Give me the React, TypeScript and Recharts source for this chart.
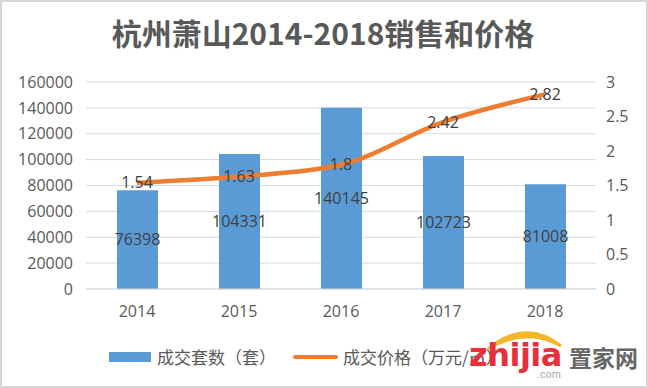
import { ComposedChart, Bar, Line, XAxis, YAxis, CartesianGrid, LabelList, Legend } from 'recharts'

const years = ['2014', '2015', '2016', '2017', '2018']
const units = [76398, 104331, 140145, 102723, 81008]
const prices = [1.54, 1.63, 1.8, 2.42, 2.82]
const leftTicks = [0, 20000, 40000, 60000, 80000, 100000, 120000, 140000, 160000]
const rightTicks = [0, 0.5, 1, 1.5, 2, 2.5, 3]

const data = years.map((y, i) => ({ year: y, units: units[i], price: prices[i] }))

const BLUE = '#5B9BD5'
const ORANGE = '#ED7D31'
const FONT = '"Open Sans", "Noto Sans CJK SC", sans-serif'
const CJK = '"Noto Sans CJK SC", sans-serif'

function LegendContent() {
  const text = { position: 'absolute' as const, top: 0, lineHeight: '24px', whiteSpace: 'nowrap' as const }
  return (
    <div style={{ position: 'relative', width: 648, height: 24, fontFamily: CJK, fontSize: 17, color: '#595959' }}>
      <span style={{ position: 'absolute', left: 109, top: 7, width: 42, height: 10, background: BLUE }} />
      <span style={{ ...text, left: 157 }}>成交套数（套）</span>
      <span style={{ position: 'absolute', left: 293, top: 10, width: 45, height: 4, background: ORANGE, borderRadius: 2 }} />
      <span style={{ ...text, left: 343 }}>成交价格（万元/㎡）</span>
    </div>
  )
}

export default function App() {
  return (
    <div style={{ position: 'absolute', left: 0, top: 0, width: 648, height: 388, background: '#fff', overflow: 'hidden' }}>
      <div style={{ position: 'absolute', left: 0, top: 15, width: 646, textAlign: 'center', fontFamily: CJK, fontWeight: 700, fontSize: 30, lineHeight: '34px', color: '#595959' }}>
        杭州萧山2014-2018销售和价格
      </div>
      <ComposedChart width={648} height={388} data={data} margin={{ top: 82, right: 2, left: 6, bottom: 19 }}>
        <CartesianGrid vertical={false} stroke="#d9d9d9" yAxisId="left" />
        <XAxis dataKey="year" height={56} axisLine={{ stroke: '#d9d9d9' }} tickLine={false} tickMargin={11} tick={{ fill: '#595959', fontSize: 16, fontFamily: FONT }} />
        <YAxis yAxisId="left" width={80} domain={[0, 160000]} ticks={leftTicks} axisLine={false} tickLine={false} tickMargin={7} tick={{ fill: '#595959', fontSize: 16, fontFamily: FONT }} />
        <YAxis yAxisId="right" orientation="right" width={50} domain={[0, 3]} ticks={rightTicks} axisLine={false} tickLine={false} tickMargin={4} tick={{ fill: '#595959', fontSize: 16, fontFamily: FONT, textAnchor: 'start' }} />
        <Legend verticalAlign="bottom" content={<LegendContent />} wrapperStyle={{ left: 0, width: 648 }} />
        <Bar yAxisId="left" dataKey="units" fill={BLUE} barSize={41} isAnimationActive={false}>
          <LabelList dataKey="units" position="center" fill="#404040" fontSize={16} fontFamily={FONT} />
        </Bar>
        <Line yAxisId="right" dataKey="price" type="monotone" stroke={ORANGE} strokeWidth={4.5} dot={false} isAnimationActive={false}>
          <LabelList dataKey="price" position="center" fill="#404040" fontSize={16} fontFamily={FONT} />
        </Line>
      </ComposedChart>
      {/* watermark */}
      <svg width={648} height={388} style={{ position: 'absolute', left: 0, top: 0, pointerEvents: 'none' }}>
        <path d="M 488 349 Q 526 318 561 346 Q 526 326 488 349 Z" fill="#F5B62A" stroke="#F5B62A" strokeWidth={3} />
      </svg>
      <span style={{ position: 'absolute', left: 469, top: 339, fontFamily: '"DejaVu Sans", sans-serif', fontWeight: 700, fontSize: 32, lineHeight: '32px', color: '#E8303A', letterSpacing: -0.5, pointerEvents: 'none' }}>zhijia</span>
      <span style={{ position: 'absolute', left: 569, top: 345, fontFamily: CJK, fontWeight: 700, fontSize: 23, lineHeight: '24px', color: '#666', whiteSpace: 'nowrap' }}>置家网</span>
      <span style={{ position: 'absolute', left: 537, top: 368, fontFamily: '"Liberation Sans", sans-serif', fontSize: 11, lineHeight: '12px', color: '#aaa' }}>.com</span>
      <div style={{ position: 'absolute', inset: 0, border: '2px solid #d6d6d6', pointerEvents: 'none' }} />
    </div>
  )
}
